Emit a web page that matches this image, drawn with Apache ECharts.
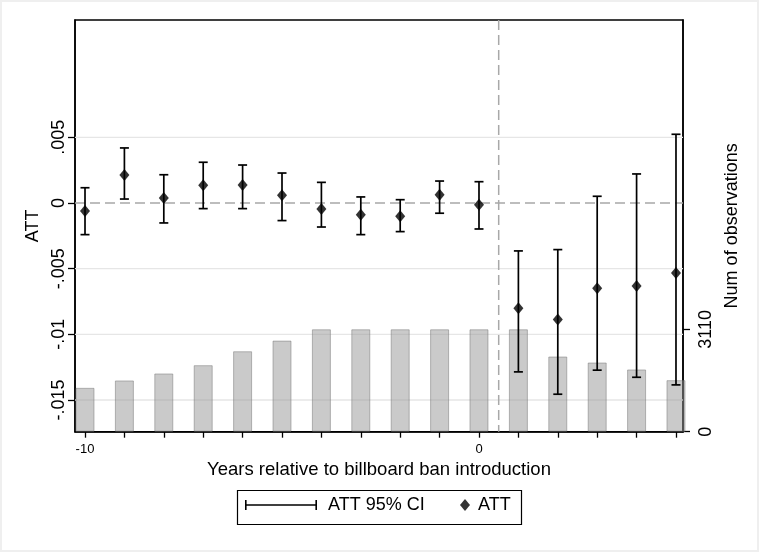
<!DOCTYPE html>
<html>
<head>
<meta charset="utf-8">
<script src="https://cdn.jsdelivr.net/npm/echarts@6/dist/echarts.min.js"></script>
<style>
html,body{margin:0;padding:0;background:#fff;}
#chart{width:759px;height:552px;}
</style>
</head>
<body>
<div id="chart"></div>
<script>
// ---- data ----
const years = [-10, -9, -8, -7, -6, -5, -4, -3, -2, -1, 0, 1, 2, 3, 4, 5];
const att = [-0.00061, 0.00213, 0.00038, 0.00135, 0.00137, 0.00058, -0.00046, -0.00089, -0.00101, 0.00063, -0.00013, -0.00801, -0.00888, -0.00649, -0.00632, -0.00533];
const ciLow = [-0.00241, 0.00030, -0.00152, -0.00043, -0.00043, -0.00134, -0.00183, -0.00241, -0.00218, -0.00078, -0.00198, -0.01286, -0.01456, -0.01273, -0.01327, -0.01385];
const ciHigh = [0.00116, 0.00419, 0.00215, 0.00310, 0.00289, 0.00228, 0.00157, 0.00046, 0.00025, 0.00167, 0.00162, -0.00365, -0.00355, 0.00051, 0.00221, 0.00523];
const nObs = [1332, 1556, 1768, 2020, 2443, 2767, 3110, 3110, 3110, 3110, 3110, 3110, 2283, 2101, 1890, 1565];
const leftTicks = [-0.015, -0.01, -0.005, 0, 0.005];
const leftTickText = {'-0.015': '-.015', '-0.01': '-.01', '-0.005': '-.005', '0': '0', '0.005': '.005'};
const rightTicks = [0, 3110];
const xLabelTicks = [-10, 0];
const gridValues = [-0.015, -0.01, -0.005, 0.005];
const refY = 0;      // dashed horizontal reference line
const refX = 0.5;    // dashed vertical reference line

const FONT = "'Liberation Sans', Arial, sans-serif";
const chart = echarts.init(document.getElementById('chart'), null, {renderer: 'canvas'});

const barData = years.map((y, i) => [y, nObs[i]]);
const ciData = years.map((y, i) => [y, ciLow[i], ciHigh[i]]);
const attData = years.map((y, i) => [y, att[i]]);

const ciIcon = 'path://M0,0h1.6v10h-1.6z M0,4.2h72v1.6h-72z M70.4,0h1.6v10h-1.6z';

function hLine(color, width, dash) {
  return function (params, api) {
    const cs = params.coordSys;
    const y = api.coord([api.value(0), api.value(1)])[1];
    return {type: 'line', shape: {x1: cs.x, y1: y, x2: cs.x + cs.width, y2: y},
      style: {stroke: color, lineWidth: width, lineDash: dash, fill: null}};
  };
}
function vLine(color, width, dash) {
  return function (params, api) {
    const cs = params.coordSys;
    const x = api.coord([api.value(0), api.value(1)])[0];
    return {type: 'line', shape: {x1: x, y1: cs.y, x2: x, y2: cs.y + cs.height},
      style: {stroke: color, lineWidth: width, lineDash: dash, fill: null}};
  };
}

const option = {
  animation: false,
  backgroundColor: '#ffffff',
  textStyle: {fontFamily: FONT},
  grid: {left: 75, top: 20, width: 608, height: 411.7, show: true, borderColor: '#000', borderWidth: 1.5, backgroundColor: 'transparent'},
  graphic: [
    {type: 'rect', z: -10, silent: true, shape: {x: 0, y: 0, width: 759, height: 552}, style: {fill: 'none', stroke: '#efefef', lineWidth: 4}},
    {type: 'rect', z: 0, silent: true, shape: {x: 237.5, y: 490.5, width: 284, height: 34}, style: {fill: '#fff', stroke: '#000', lineWidth: 1.2}}
  ],
  legend: [
    {
      left: 245, top: 496, padding: 0, selectedMode: false,
      itemWidth: 72, itemHeight: 10,
      textStyle: {fontSize: 18, color: '#000', fontFamily: FONT, padding: [0, 0, 0, 6]},
      data: [{name: 'ATT 95% CI', icon: ciIcon, itemStyle: {color: '#000'}}]
    },
    {
      left: 460, top: 496, padding: 0, selectedMode: false,
      itemWidth: 10, itemHeight: 12,
      textStyle: {fontSize: 18, color: '#000', fontFamily: FONT, padding: [0, 0, 0, 3]},
      data: [{name: 'ATT', icon: 'diamond', itemStyle: {color: '#000'}}]
    }
  ],
  xAxis: {
    type: 'value', min: -10.254, max: 5.178,
    name: 'Years relative to billboard ban introduction',
    nameLocation: 'middle', nameGap: 22,
    nameTextStyle: {fontSize: 18.5, color: '#000', fontFamily: FONT},
    axisLine: {show: true, onZero: false, lineStyle: {color: '#000', width: 1.5}},
    axisTick: {show: true, length: 6, lineStyle: {color: '#000', width: 1.3}, customValues: years},
    axisLabel: {customValues: xLabelTicks, fontSize: 13, color: '#000', margin: 11, fontFamily: FONT},
    splitLine: {show: false}
  },
  yAxis: [
    {
      type: 'value', min: -0.017414, max: 0.013931, position: 'left',
      name: 'ATT', nameLocation: 'middle', nameGap: 27, nameRotate: 90,
      nameTextStyle: {fontSize: 18, color: '#000', fontFamily: FONT},
      axisLine: {show: true, onZero: false, lineStyle: {color: '#000', width: 1.5}},
      axisTick: {show: true, length: 7, lineStyle: {color: '#000', width: 1.3}, customValues: leftTicks},
      axisLabel: {customValues: leftTicks, rotate: 90, fontSize: 18, color: '#000', margin: 7, fontFamily: FONT,
        formatter: v => leftTickText[String(v)] !== undefined ? leftTickText[String(v)] : String(v)},
      splitLine: {show: false}
    },
    {
      type: 'value', min: 0, max: 12504, position: 'right',
      name: 'Num of observations', nameLocation: 'middle', nameGap: 33, nameRotate: 90,
      nameTextStyle: {fontSize: 18, color: '#000', fontFamily: FONT},
      axisLine: {show: true, onZero: false, lineStyle: {color: '#000', width: 1.5}},
      axisTick: {show: true, length: 7, lineStyle: {color: '#000', width: 1.3}, customValues: rightTicks},
      axisLabel: {customValues: rightTicks, rotate: 90, fontSize: 18, color: '#000', margin: 14, fontFamily: FONT,
        formatter: v => String(v)},
      splitLine: {show: false}
    }
  ],
  series: [
    {
      name: 'grid', type: 'custom', yAxisIndex: 0, z: 1, silent: true, clip: false,
      data: gridValues.map(v => [-10, v]),
      renderItem: hLine('#e6e6e6', 1.3, null)
    },
    {
      name: 'Num of observations', type: 'bar', yAxisIndex: 1, xAxisIndex: 0,
      data: barData, barWidth: 19, clip: true, z: 2,
      itemStyle: {color: 'rgba(150,150,150,0.5)', borderColor: 'rgba(120,120,120,0.5)', borderWidth: 1}
    },
    {
      name: 'refH', type: 'custom', yAxisIndex: 0, z: 4, silent: true, clip: false,
      data: [[-10, refY]],
      renderItem: hLine('#a8a8a8', 1.5, [10, 5])
    },
    {
      name: 'refV', type: 'custom', yAxisIndex: 0, z: 4, silent: true, clip: false,
      data: [[refX, 0]],
      renderItem: vLine('#a8a8a8', 1.5, [10, 5])
    },
    {
      name: 'ATT 95% CI', type: 'custom', yAxisIndex: 0, z: 10,
      data: ciData,
      itemStyle: {color: '#000'},
      renderItem: function (params, api) {
        const x = api.value(0);
        const pLo = api.coord([x, api.value(1)]);
        const pHi = api.coord([x, api.value(2)]);
        const hw = 4.5;
        const st = {stroke: '#000', lineWidth: 1.7, fill: null};
        return {type: 'group', children: [
          {type: 'line', shape: {x1: pLo[0], y1: pLo[1], x2: pHi[0], y2: pHi[1]}, style: st},
          {type: 'line', shape: {x1: pLo[0] - hw, y1: pLo[1], x2: pLo[0] + hw, y2: pLo[1]}, style: st},
          {type: 'line', shape: {x1: pHi[0] - hw, y1: pHi[1], x2: pHi[0] + hw, y2: pHi[1]}, style: st}
        ]};
      }
    },
    {
      name: 'ATT', type: 'scatter', yAxisIndex: 0, z: 11,
      data: attData, symbol: 'diamond', symbolSize: [10, 12],
      itemStyle: {color: '#000'}
    }
  ]
};
chart.setOption(option);
</script>
</body>
</html>
